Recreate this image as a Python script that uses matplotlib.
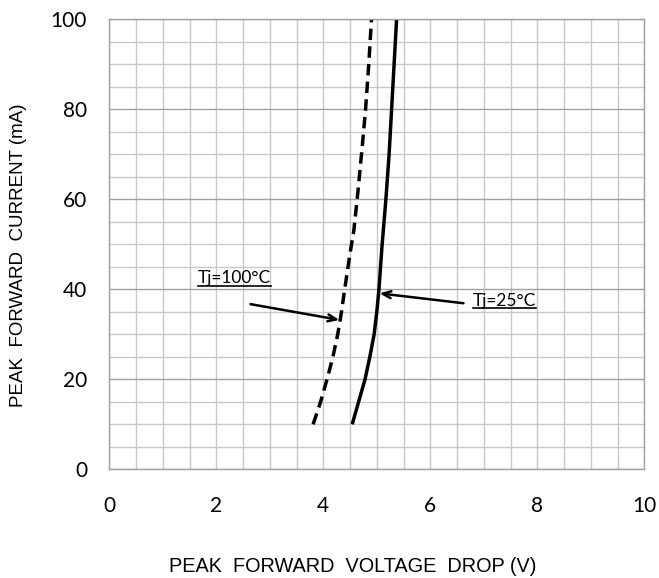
import numpy as np
import matplotlib
matplotlib.use("Agg")
import matplotlib.pyplot as plt
from matplotlib.lines import Line2D

# 曲线数据
v_25 = [4.54, 4.66, 4.78, 4.87, 4.95, 5.00, 5.04, 5.10, 5.17, 5.23, 5.30, 5.37]
i_25 = [10, 15, 20, 25, 30, 35, 40, 50, 60, 70, 85, 100]
v_100 = [3.81, 3.95, 4.07, 4.18, 4.27, 4.34, 4.40, 4.50, 4.57, 4.65, 4.73, 4.79, 4.85, 4.90]
i_100 = [10, 15, 20, 25, 30, 35, 40, 48, 53, 62, 72, 80, 90, 100]

x_ticks = [0, 2, 4, 6, 8, 10]
y_ticks = [0, 20, 40, 60, 80, 100]

label_100 = "Tj=100°C"
label_25 = "Tj=25°C"
# 注释位置: 文字左下(基线), 箭头起点, 箭头终点
pos_100 = (1.66, 41.3)
arrow_100 = ((2.64, 36.7), (4.30, 33.2))
pos_25 = (6.80, 36.3)
arrow_25 = ((6.62, 36.9), (5.05, 39.1))

calibri = ['Lato', 'DejaVu Sans']
arial = ['Liberation Sans', 'DejaVu Sans']

fig = plt.figure(figsize=(6.59, 5.78), dpi=100)
ax = fig.add_axes([109.3 / 659, 1 - 469.3 / 578, 535 / 659, 450 / 578])

ax.set_xlim(0, 10)
ax.set_ylim(0, 100)
ax.set_xticks(x_ticks)
ax.set_yticks(y_ticks)
ax.set_xticks(np.arange(0, 10.01, 0.5), minor=True)
ax.set_yticks(np.arange(0, 100.1, 5), minor=True)
ax.tick_params(which='both', length=0)
ax.tick_params(axis='x', pad=19)
ax.tick_params(axis='y', pad=16)
for lab in ax.get_xticklabels() + ax.get_yticklabels():
    lab.set_family(calibri)
    lab.set_fontsize(15)

ax.grid(which='minor', color='#c8c8c8', linewidth=1.0)
ax.grid(which='major', axis='x', color='#c8c8c8', linewidth=1.0)
ax.grid(which='major', axis='y', color='#a0a0a0', linewidth=1.0)
ax.set_axisbelow(True)
for s in ax.spines.values():
    s.set_color('#a0a0a0')
    s.set_linewidth(1.0)

ax.plot(v_25, i_25, color='black', linewidth=2.5, solid_capstyle='butt')
ax.plot(v_100, i_100, color='black', linewidth=2.5, linestyle=(0, (3.3, 1.8)),
        dash_capstyle='butt')

t1 = ax.text(pos_100[0], pos_100[1], label_100, family=calibri, fontsize=12.5,
             va='baseline', ha='left')
t2 = ax.text(pos_25[0], pos_25[1], label_25, family=calibri, fontsize=12.5,
             va='baseline', ha='left')
for (start, end) in [arrow_100, arrow_25]:
    ax.annotate('', xy=end, xytext=start,
                arrowprops=dict(arrowstyle='->,head_length=0.6,head_width=0.25',
                                color='black', linewidth=1.8, shrinkA=0, shrinkB=0))

ax.set_xlabel('PEAK  FORWARD  VOLTAGE  DROP (V)', family=arial, fontsize=14.3)
ax.xaxis.set_label_coords(0.4546, -0.195)
ax.set_ylabel('PEAK  FORWARD  CURRENT (mA)', family=arial, fontsize=13.5)
ax.yaxis.set_label_coords(-0.154, 0.476)

# 下划线
fig.canvas.draw()
r = fig.canvas.get_renderer()
for t in [t1, t2]:
    bb = t.get_window_extent(r)
    base = ax.transData.transform(t.get_position())[1] - 2.5
    x0, y0 = fig.transFigure.inverted().transform((bb.x0, base))
    x1, _ = fig.transFigure.inverted().transform((bb.x1, base))
    fig.add_artist(Line2D([x0, x1], [y0, y0], color='black', linewidth=1.2))

fig.savefig('out.png', dpi=100)
